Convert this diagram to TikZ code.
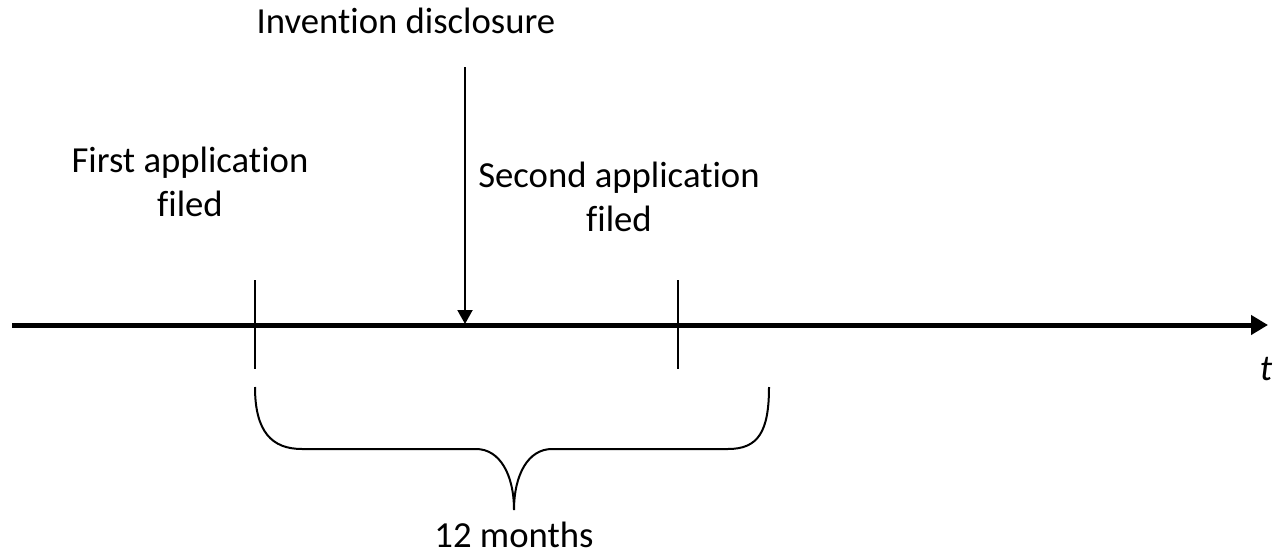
\documentclass[tikz,border=0pt]{standalone}
\usepackage{fontspec}
\setmainfont{Carlito}[Ligatures=NoCommon]
\usetikzlibrary{arrows.meta}
\begin{document}
\begin{tikzpicture}[x=1pt,y=-1pt,
  lbl/.style={inner sep=0pt,align=center,font=\fontsize{36.7}{44}\selectfont},
  tick/.style={line width=1.5pt},
  axisline/.style={line width=5pt,-{Triangle[length=17pt,width=19pt]}},
  downarrow/.style={line width=2pt,-{Triangle[length=14pt,width=15pt]}},
  bracestyle/.style={line width=2pt}]
\useasboundingbox (0,0) rectangle (1284,554);
% axis
\coordinate (axL) at (12,325);
\coordinate (axR) at (1268,325);
\draw[axisline] (axL) -- (axR);
% ticks
\coordinate (t1a) at (255,280);
\coordinate (t1b) at (255,369);
\coordinate (t2a) at (678,280);
\coordinate (t2b) at (678,369);
\draw[tick] (t1a) -- (t1b);
\draw[tick] (t2a) -- (t2b);
% disclosure arrow
\node[lbl,anchor=base] (disc) at (406,33) {Invention disclosure};
\coordinate (dA) at (465,67);
\coordinate (dB) at (465,324);
\draw[downarrow] (dA) -- (dB);
% labels
\node[lbl,anchor=base] (first) at (190,216) {First application\\filed};
\node[lbl,anchor=base] (second) at (619,231) {Second application\\filed};
\node[lbl,anchor=base,font=\fontsize{36.7}{44}\itshape] (t) at (1266,380) {t};
% brace
\coordinate (bL) at (255,387);
\coordinate (bM) at (514,510);
\coordinate (bR) at (769,387);
\draw[bracestyle] (bL) .. controls (255,432) and (272,449) .. (302,449)
  -- (476,449) .. controls (500,449) and (514,475) .. (bM)
  .. controls (514,475) and (528,449) .. (552,449)
  -- (728,449) .. controls (758,449) and (769,432) .. (bR);
\node[lbl,anchor=base] (months) at (514,547) {12 months};
\end{tikzpicture}
\end{document}
